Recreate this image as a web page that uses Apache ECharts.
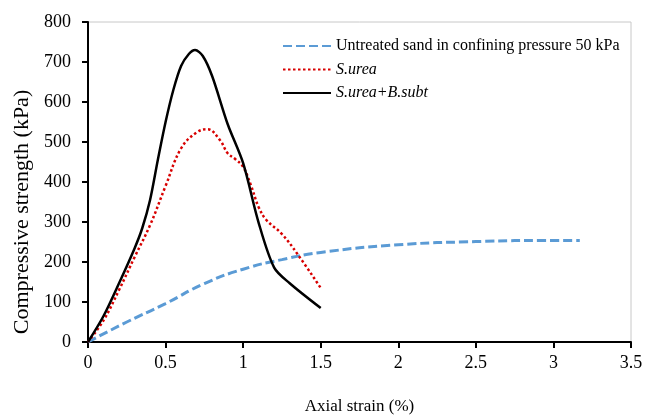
<!DOCTYPE html>
<html>
<head>
<meta charset="utf-8">
<script src="https://cdn.jsdelivr.net/npm/echarts@6/dist/echarts.min.js"></script>
<style>
html,body{margin:0;padding:0;background:#fff;}
#chart{width:646px;height:415px;}
</style>
</head>
<body>
<div id="chart"></div>
<script>
// Data
var seriesNames = ['Untreated sand in confining pressure 50 kPa', 'S.urea', 'S.urea+B.subt'];
var untreatedStrain = [0, 0.25, 0.5, 0.75, 1.0, 1.25, 1.5, 2.0, 2.5, 3.0, 3.17];
var untreatedStress = [0, 50, 96, 146, 182, 206, 224, 243, 251, 254, 254];
var ureaStrain = [0, 0.1, 0.2, 0.3, 0.4, 0.5, 0.6, 0.7, 0.77, 0.85, 0.9, 0.95, 1.0, 1.05, 1.1, 1.15, 1.25, 1.35, 1.5];
var ureaStress = [0, 54, 130, 212, 292, 390, 484, 524, 532, 505, 472, 457, 438, 392, 337, 305, 270, 220, 135];
var mixStrain = [0, 0.1, 0.2, 0.3, 0.35, 0.4, 0.45, 0.5, 0.55, 0.6, 0.65, 0.69, 0.74, 0.8, 0.9, 1.0, 1.1, 1.2, 1.3, 1.5];
var mixStress = [0, 65, 147, 234, 285, 355, 455, 550, 630, 690, 720, 730, 715, 665, 545, 447, 298, 186, 147, 85];
var xTicks = {min: 0, max: 3.5, interval: 0.5};
var yTicks = {min: 0, max: 800, interval: 100};

function pairs(xs, ys) { return xs.map(function (x, i) { return [x, ys[i]]; }); }

var font = 'Liberation Serif, Times New Roman, serif';
var chart = echarts.init(document.getElementById('chart'), null, {renderer: 'canvas'});
chart.setOption({
  animation: false,
  backgroundColor: '#fff',
  grid: {left: 88, right: 15, top: 22, bottom: 73, containLabel: false, outerBoundsMode: 'none',
         show: true, borderColor: '#c8c8c8', borderWidth: 1},
  legend: {
    orient: 'vertical', left: 282, top: 38, padding: 0, itemWidth: 48, itemHeight: 14, itemGap: 7.5,
    itemStyle: {opacity: 0},
    textStyle: {fontFamily: font, fontSize: 16, color: '#000'},
    data: [
      {name: seriesNames[0]},
      {name: seriesNames[1], textStyle: {fontStyle: 'italic'}},
      {name: seriesNames[2], textStyle: {fontStyle: 'italic'}}
    ]
  },
  xAxis: {
    type: 'value', min: xTicks.min, max: xTicks.max, interval: xTicks.interval,
    name: 'Axial strain (%)', nameLocation: 'middle', nameGap: 56,
    nameTextStyle: {fontFamily: font, fontSize: 17, color: '#000'},
    axisLine: {show: true, onZero: false, lineStyle: {color: '#000', width: 2}},
    axisTick: {show: true, length: 6, lineStyle: {color: '#000', width: 2}},
    axisLabel: {fontFamily: font, fontSize: 18, color: '#000', margin: 12},
    splitLine: {show: false}
  },
  yAxis: {
    type: 'value', min: yTicks.min, max: yTicks.max, interval: yTicks.interval,
    name: 'Compressive strength (kPa)', nameLocation: 'middle', nameGap: 54, nameRotate: 90,
    nameTextStyle: {fontFamily: font, fontSize: 22, color: '#000', padding: [0, 60, 0, 0]},
    axisLine: {show: true, onZero: false, lineStyle: {color: '#000', width: 2}},
    axisTick: {show: true, length: 6, lineStyle: {color: '#000', width: 2}},
    axisLabel: {fontFamily: font, fontSize: 18, color: '#000', margin: 17},
    splitLine: {show: false}
  },
  series: [
    {
      name: seriesNames[0], type: 'line', data: pairs(untreatedStrain, untreatedStress),
      smooth: 0.5, symbol: 'none', z: 2,
      lineStyle: {color: '#5b9bd5', width: 3, type: [9, 4]},
      itemStyle: {color: '#5b9bd5'}
    },
    {
      name: seriesNames[1], type: 'line', data: pairs(ureaStrain, ureaStress),
      smooth: 0.4, symbol: 'none', z: 3,
      lineStyle: {color: '#d80000', width: 2.5, type: [2.5, 2.5]},
      itemStyle: {color: '#d80000'}
    },
    {
      name: seriesNames[2], type: 'line', data: pairs(mixStrain, mixStress),
      smooth: 0.3, symbol: 'none', z: 4,
      lineStyle: {color: '#000', width: 2.5},
      itemStyle: {color: '#000'}
    }
  ]
});
</script>
</body>
</html>
